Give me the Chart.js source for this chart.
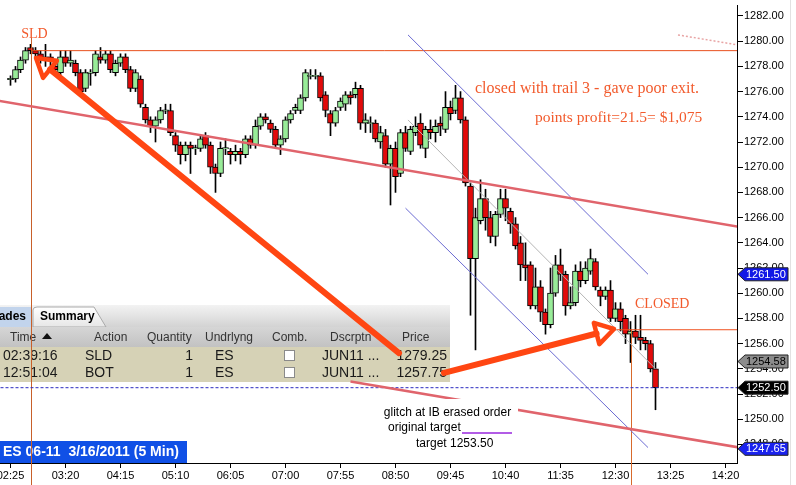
<!DOCTYPE html>
<html>
<head>
<meta charset="utf-8">
<script src="https://cdn.jsdelivr.net/npm/chart.js@4.4.1/dist/chart.umd.min.js"></script>
<style>
  html, body { margin: 0; padding: 0; background: #fff; overflow: hidden; }
  #c { display: block; }
</style>
</head>
<body>
<canvas id="c" width="796" height="485"></canvas>
<script>
// ES 06-11, 5 min bars from 02:25
const timeLabels = ['02:25', '03:20', '04:15', '05:10', '06:05', '07:00', '07:55',
                    '08:50', '09:45', '10:40', '11:35', '12:30', '13:25', '14:20'];
const barsPerLabel = 11;

const opens = [
  1277, 1277, 1277.75, 1278.5, 1279.5, 1279.25, 1279, 1278.75, 1278.75, 1278,
  1277.5, 1278.75, 1278.25, 1278.25, 1277.5, 1276.25, 1277.5, 1277.5, 1278.75, 1278.5,
  1279, 1277.5, 1278.25, 1278.75, 1277.75, 1276.25, 1277, 1274.75, 1273.75, 1273.25,
  1273.75, 1274.5, 1274.5, 1272.5, 1271.75, 1271, 1271.75, 1271.5, 1271.5, 1272.5,
  1271.75, 1270, 1269.5, 1271.5, 1271.25, 1271, 1271.25, 1271, 1272.25, 1271.75,
  1273.25, 1274, 1273.5, 1273, 1271.75, 1272.25, 1273.75, 1274.5, 1274.5, 1275.5,
  1277.25, 1277.25, 1277.25, 1275.75, 1274.25, 1273.5, 1274.75, 1275, 1275.75, 1275.75,
  1276.25, 1273.5, 1273.5, 1273.5, 1272, 1272.5, 1270.25, 1271.5, 1269.5, 1272.75,
  1271.25, 1272.75, 1273.5, 1271.5, 1273, 1272.75, 1273.5, 1273, 1274.75, 1274.5,
  1275.5, 1273.75, 1268.5, 1262.75, 1265.75, 1267.5, 1266, 1264.5, 1266.25, 1267.5,
  1266.5, 1265.5, 1264, 1262.25, 1262.25, 1259, 1260.5, 1258.5, 1257.5, 1260,
  1262.25, 1261.5, 1259, 1259.25, 1261.75, 1261, 1261.75, 1262.5, 1260.25, 1259.75,
  1260.25, 1258, 1258.75, 1258, 1256.75, 1257, 1256.5, 1256.25, 1256, 1254
];
const highs = [
  1277.25, 1278, 1278.75, 1279.5, 1279.75, 1279.5, 1279.25, 1279.75, 1279, 1278.5,
  1279.25, 1279.25, 1279.25, 1278.5, 1277.75, 1277.75, 1277.75, 1279.25, 1279.5, 1279.25,
  1279.25, 1278.5, 1279, 1279, 1278, 1277.75, 1277.25, 1275, 1274, 1274,
  1274.75, 1275, 1275, 1272.75, 1272, 1272, 1272, 1271.75, 1272.5, 1272.75,
  1272, 1270.25, 1272, 1272.25, 1271.5, 1271.75, 1271.5, 1272.5, 1272.5, 1273.75,
  1274.25, 1274.25, 1273.75, 1273.25, 1272.5, 1274, 1274.5, 1275, 1275.75, 1277.75,
  1277.75, 1277.75, 1277.5, 1276, 1274.5, 1274.75, 1275.5, 1276, 1276, 1276.75,
  1276.5, 1274.25, 1274, 1273.75, 1273.25, 1273, 1271.75, 1272, 1273, 1273.25,
  1273.25, 1274, 1274.25, 1273.25, 1273.75, 1273.75, 1274, 1276, 1275.25, 1276.5,
  1276, 1274, 1268.75, 1266.75, 1269, 1268.25, 1266.5, 1266.5, 1268.25, 1268.25,
  1266.75, 1266, 1264.5, 1264, 1262.5, 1262, 1261, 1258.75, 1262, 1263,
  1263.5, 1261.75, 1260.5, 1262.25, 1262.5, 1262.5, 1263.5, 1262.75, 1260.5, 1260.5,
  1261, 1259.25, 1259.25, 1258.25, 1257.75, 1258.25, 1258.25, 1256.5, 1256.25, 1254.5
];
const lows = [
  1276.5, 1276.75, 1277.5, 1278.25, 1279, 1278.75, 1278.25, 1278, 1277.75, 1277.25,
  1277.25, 1278, 1278, 1277.25, 1275.75, 1276, 1276.5, 1277.25, 1278.25, 1278.25,
  1277.5, 1277.25, 1278, 1277.5, 1276, 1276, 1274.75, 1273.5, 1272.75, 1272,
  1273.5, 1274.25, 1272.5, 1271.25, 1270.25, 1270.5, 1269.5, 1271, 1271.25, 1271.5,
  1269.5, 1268, 1269.25, 1271, 1270.25, 1270.5, 1270.25, 1270.75, 1271.5, 1271.5,
  1273, 1273.5, 1272.75, 1271.5, 1271, 1272, 1273.5, 1274.25, 1274.25, 1275.25,
  1277, 1277, 1275.25, 1274, 1272.5, 1273.25, 1274.5, 1274.5, 1275, 1275.5,
  1273, 1272.75, 1272.75, 1272, 1271.5, 1270, 1267, 1268, 1269.25, 1271.25,
  1271, 1272.5, 1271.5, 1270.75, 1272.25, 1272, 1272.5, 1272.75, 1273.75, 1274.25,
  1273.5, 1268.5, 1258.25, 1255.5, 1265.5, 1265, 1264, 1263.75, 1266, 1265.75,
  1264.75, 1263.5, 1261, 1261, 1258.75, 1258.75, 1257.75, 1256.75, 1257.25, 1259.75,
  1261, 1258.25, 1258.75, 1259, 1260.5, 1260.75, 1261.5, 1260.25, 1259, 1259.5,
  1257.75, 1257.75, 1257, 1256, 1254.5, 1256, 1255.5, 1255.5, 1253.75, 1250.75
];
const closes = [
  1277, 1277.75, 1278.5, 1279.25, 1279.25, 1279, 1278.5, 1278.5, 1278.5, 1277.75,
  1278.75, 1278.25, 1278.5, 1277.5, 1276, 1277.5, 1277.5, 1279, 1278.5, 1279,
  1277.75, 1278.25, 1278.75, 1277.75, 1276.25, 1277.5, 1275, 1273.75, 1273.25, 1273.75,
  1274.5, 1274.5, 1272.75, 1271.75, 1271, 1271.75, 1271.5, 1271.5, 1272.25, 1271.75,
  1270, 1269.5, 1271.5, 1271.5, 1271, 1271.25, 1271, 1272.25, 1271.75, 1273.25,
  1274, 1273.75, 1273, 1271.75, 1272.25, 1273.75, 1274.25, 1274.75, 1275.5, 1277.5,
  1277.25, 1277.25, 1275.5, 1274.5, 1273.5, 1274.5, 1275.25, 1275.75, 1275.5, 1276.25,
  1273.5, 1273.75, 1273.5, 1272.25, 1272.75, 1270.25, 1271.5, 1269.25, 1272.75, 1271.5,
  1273, 1273.25, 1271.75, 1273, 1272.75, 1273.25, 1273.25, 1274.75, 1274.25, 1275.5,
  1273.75, 1268.75, 1262.75, 1266, 1267.5, 1266, 1264.5, 1266.25, 1267.5, 1266.75,
  1265.5, 1263.75, 1262.25, 1262, 1259, 1260.5, 1258.5, 1257.5, 1260, 1262.25,
  1261.5, 1259, 1259.25, 1261.75, 1261, 1262, 1262.75, 1260.5, 1259.75, 1260.25,
  1258, 1258.75, 1257.75, 1256.75, 1257, 1256.5, 1256.25, 1256, 1254, 1252.5
];

// price flags on the right axis
const tagValues = [1261.50, 1254.58, 1252.50, 1247.65];

// trades
const tradeTimes = ['02:39:16', '12:51:04'];
const tradeActions = ['SLD', 'BOT'];
const tradeQty = [1, 1];
const tradeUnderlying = ['ES', 'ES'];
const tradeDesc = ['JUN11 ...', 'JUN11 ...'];
const tradePrices = [1279.25, 1257.75];

// drawn lines, as [barIndex, price, barIndex, price]
const sldLevel = [4.2, 1279.25, 147, 1279.25];
const sldMark = [4.2, 1280.25, 4.2, 1244.3];
const closedLevel = [120.5, 1257.1, 147, 1257.1];
const closedMark = [124.2, 1257.1, 124.2, 1244.3];
const redChannel = [[-3, 1275.32, 147, 1265.18], [68, 1253, 147, 1247.67]];
const redFaint = [133.5, 1280.5, 147, 1279.6];
const blueChannel = [[79.5, 1280.5, 127.5, 1261.5], [79, 1266.75, 127.5, 1247.75]];
const midLine = [79.5, 1273.75, 129, 1254];
const arrows = [[77.7, 1255.25, 5.1, 1278.67], [86.7, 1253.67, 120.7, 1257.16]];

const lastClose = closes[closes.length - 1];

const sans = '"Liberation Sans", Arial, sans-serif';
const serif = '"Liberation Serif", "Times New Roman", serif';
Chart.defaults.font.family = sans;

const seg = l => [{x: l[0], y: l[1]}, {x: l[2], y: l[3]}];
const lineDs = (l, color, width, extra) => Object.assign({
  type: 'line', data: seg(l), borderColor: color, borderWidth: width,
  pointRadius: 0, fill: false, order: -1
}, extra || {});

function drawTable(ctx) {
  ctx.save();
  // tab strip
  let g = ctx.createLinearGradient(0, 305, 0, 327);
  g.addColorStop(0, '#f3f3f3');
  g.addColorStop(1, '#d3d3d3');
  ctx.fillStyle = g;
  ctx.fillRect(0, 305, 450, 22);
  ctx.fillStyle = '#c2d4ec';
  ctx.fillRect(0, 307, 31, 20);
  // Summary tab
  g = ctx.createLinearGradient(0, 307, 0, 327);
  g.addColorStop(0, '#ffffff');
  g.addColorStop(1, '#e6e6e6');
  ctx.beginPath();
  ctx.moveTo(33, 327);
  ctx.lineTo(33, 310);
  ctx.quadraticCurveTo(33, 307, 37, 307);
  ctx.lineTo(94, 307);
  ctx.lineTo(106, 327);
  ctx.closePath();
  ctx.fillStyle = g;
  ctx.fill();
  ctx.strokeStyle = '#aaa';
  ctx.lineWidth = 1;
  ctx.stroke();

  ctx.fillStyle = '#000';
  ctx.font = 'bold 12px ' + sans;
  ctx.textBaseline = 'middle';
  ctx.textAlign = 'right';
  ctx.fillText('Trades', 26, 317);
  ctx.textAlign = 'left';
  ctx.fillText('Summary', 40, 317);

  // header
  g = ctx.createLinearGradient(0, 327, 0, 347);
  g.addColorStop(0, '#d6d6d6');
  g.addColorStop(1, '#c2c2c2');
  ctx.fillStyle = g;
  ctx.fillRect(0, 327, 450, 20);
  ctx.fillStyle = '#333';
  ctx.font = '12px ' + sans;
  const heads = ['Time', 'Action', 'Quantity', 'Undrlyng', 'Comb.', 'Dscrptn', 'Price'];
  const headX = [10, 94, 147, 205, 272, 330, 402];
  heads.forEach((h, k) => ctx.fillText(h, headX[k], 338));
  ctx.beginPath();
  ctx.moveTo(42, 339); ctx.lineTo(52, 339); ctx.lineTo(47, 333);
  ctx.closePath();
  ctx.fillStyle = '#111';
  ctx.fill();

  // rows
  ctx.fillStyle = '#d6d2b6';
  ctx.fillRect(0, 347, 450, 35);
  ctx.font = '14px ' + sans;
  tradeTimes.forEach((t, r) => {
    const y = 356 + r * 17;
    ctx.fillStyle = '#1a1a1a';
    ctx.textAlign = 'left';
    ctx.fillText(t, 3, y);
    ctx.fillText(tradeActions[r], 85, y);
    ctx.fillText(tradeUnderlying[r], 215, y);
    ctx.fillText(tradeDesc[r], 322, y);
    ctx.textAlign = 'right';
    ctx.fillText(String(tradeQty[r]), 193, y);
    ctx.fillText(tradePrices[r].toFixed(2), 447, y);
    ctx.fillStyle = '#fff';
    ctx.fillRect(284.5, y - 5.5, 10, 10);
    ctx.strokeStyle = '#8a8a8a';
    ctx.strokeRect(284.5, y - 5.5, 10, 10);
  });

  // series caption
  ctx.fillStyle = '#1050e6';
  ctx.fillRect(0, 441, 187, 22);
  ctx.fillStyle = '#fff';
  ctx.font = 'bold 14px ' + sans;
  ctx.textAlign = 'left';
  ctx.fillText('ES 06-11  3/16/2011 (5 Min)', 3, 452.5);
  ctx.restore();
}

function drawTag(ctx, x, y, text, fill, color) {
  ctx.beginPath();
  ctx.moveTo(x, y);
  ctx.lineTo(x + 7, y - 6.5);
  ctx.lineTo(x + 50, y - 6.5);
  ctx.lineTo(x + 50, y + 6.5);
  ctx.lineTo(x + 7, y + 6.5);
  ctx.closePath();
  ctx.fillStyle = fill;
  ctx.fill();
  ctx.strokeStyle = '#222';
  ctx.lineWidth = 1;
  ctx.stroke();
  ctx.fillStyle = color;
  ctx.font = '11px ' + sans;
  ctx.textAlign = 'left';
  ctx.textBaseline = 'middle';
  ctx.fillText(text, x + 8, y + 0.5);
}

function drawArrow(ctx, x1, y1, x2, y2) {
  const len = Math.hypot(x2 - x1, y2 - y1);
  const ux = (x2 - x1) / len, uy = (y2 - y1) / len;
  const headLen = 18, half = 11;
  const bx = x2 - ux * headLen, by = y2 - uy * headLen;
  ctx.save();
  ctx.strokeStyle = '#ff4612';
  ctx.lineCap = 'round';
  ctx.lineJoin = 'round';
  ctx.lineWidth = 6;
  ctx.beginPath();
  ctx.moveTo(x1, y1);
  ctx.lineTo(bx, by);
  ctx.stroke();
  ctx.lineWidth = 4.5;
  ctx.beginPath();
  ctx.moveTo(x2, y2);
  ctx.lineTo(bx - uy * half, by + ux * half);
  ctx.lineTo(bx + uy * half, by - ux * half);
  ctx.closePath();
  ctx.stroke();
  ctx.restore();
}

const overlay = {
  id: 'overlay',
  beforeDatasetsDraw(chart) {
    drawTable(chart.ctx);
  },
  afterDraw(chart) {
    const ctx = chart.ctx, xs = chart.scales.x, ys = chart.scales.y;
    ctx.save();
    ctx.textBaseline = 'middle';
    ctx.fillStyle = '#f25a2c';
    ctx.font = '14px ' + serif;
    ctx.textAlign = 'center';
    ctx.fillText('SLD', xs.getPixelForValue(sldMark[0]) + 3, 34);
    ctx.textAlign = 'left';
    ctx.fillText('CLOSED', 635, 304);
    ctx.font = '16px ' + serif;
    ctx.fillText('closed with trail 3 - gave poor exit.', 475, 89);
    ctx.font = '15.5px ' + serif;
    ctx.fillText('points profit=21.5= $1,075', 535, 118);

    // note about the target order
    ctx.fillStyle = '#fff';
    ctx.fillRect(378, 399, 140, 53);
    ctx.fillStyle = '#000';
    ctx.font = '12px ' + sans;
    ctx.textAlign = 'center';
    ctx.fillText('glitch at IB erased order', 447.5, 413);
    ctx.textAlign = 'left';
    ctx.fillText('original target', 388, 428);
    ctx.fillText('target 1253.50', 416, 444);
    ctx.strokeStyle = '#b25ce6';
    ctx.lineWidth = 2;
    ctx.beginPath();
    ctx.moveTo(462, 433);
    ctx.lineTo(512, 433);
    ctx.stroke();

    // right edge of the price panel
    ctx.strokeStyle = '#e2e2e2';
    ctx.lineWidth = 1;
    ctx.beginPath();
    ctx.moveTo(790.5, 0);
    ctx.lineTo(790.5, 485);
    ctx.stroke();

    const tagFill = ['#1218e6', '#8c8c8c', '#000', '#1a22ee'];
    const tagText = ['#fff', '#000', '#fff', '#fff'];
    tagValues.forEach((v, k) => drawTag(ctx, chart.chartArea.right + 1,
      ys.getPixelForValue(v), v.toFixed(2), tagFill[k], tagText[k]));

    arrows.forEach(a => drawArrow(ctx,
      xs.getPixelForValue(a[0]), ys.getPixelForValue(a[1]),
      xs.getPixelForValue(a[2]), ys.getPixelForValue(a[3])));
    ctx.restore();
  }
};

new Chart(document.getElementById('c'), {
  type: 'bar',
  data: {
    datasets: [
      lineDs(redChannel[0], '#e0646c', 2.5),
      lineDs(redChannel[1], '#e0646c', 2.5),
      lineDs(redFaint, '#e8a4a4', 1.5, {borderDash: [2, 2]}),
      lineDs(blueChannel[0], '#6a6ad2', 1),
      lineDs(blueChannel[1], '#6a6ad2', 1),
      lineDs(midLine, '#b4b4b4', 1),
      lineDs(sldLevel, '#e8501e', 1),
      lineDs(closedLevel, '#f0501e', 1),
      lineDs([-3, lastClose, 147, lastClose], '#2a2ac0', 1, {borderDash: [3, 2]}),
      lineDs(sldMark, '#c8602a', 1, {clip: false}),
      lineDs(closedMark, '#d86a2c', 1, {clip: false}),
      {
        type: 'bar',
        data: opens.map((o, i) => ({x: i, y: o === closes[i] ? [o - 0.05, o + 0.05] : [o, closes[i]]})),
        backgroundColor: opens.map((o, i) => closes[i] >= o ? '#98ec98' : '#e20a0a'),
        borderColor: '#000',
        borderWidth: 1,
        borderSkipped: false,
        barThickness: 6,
        grouped: false,
        order: 0
      },
      {
        type: 'bar',
        data: lows.map((l, i) => ({x: i, y: [l, highs[i]]})),
        backgroundColor: '#000',
        borderWidth: 0,
        barThickness: 1,
        grouped: false,
        order: 1
      }
    ]
  },
  options: {
    responsive: false,
    animation: false,
    events: [],
    layout: {padding: {left: 0, top: 5, right: 0, bottom: 0}},
    plugins: {legend: {display: false}, tooltip: {enabled: false}},
    scales: {
      x: {
        type: 'linear',
        min: -2.1,
        max: 145.3,
        offset: false,
        grid: {offset: false, drawOnChartArea: false, drawTicks: true, tickLength: 5, color: '#000'},
        border: {display: true, color: '#000'},
        ticks: {
          autoSkip: false, maxRotation: 0, padding: 1, color: '#000',
          font: {size: 11},
          callback: (v, k) => timeLabels[k]
        },
        afterBuildTicks: s => { s.ticks = timeLabels.map((_, k) => ({value: k * barsPerLabel})); },
        afterFit: s => { s.height = 22; s.paddingLeft = 0; s.paddingRight = 0; }
      },
      y: {
        position: 'right',
        min: 1246.524,
        max: 1282.873,
        grid: {drawOnChartArea: false, drawTicks: true, tickLength: 6, color: '#000'},
        border: {display: true, color: '#000'},
        ticks: {
          stepSize: 2, includeBounds: false, padding: 1, color: '#000',
          font: {size: 11},
          callback: v => v.toFixed(2)
        },
        afterFit: s => { s.width = 59; s.paddingTop = 0; s.paddingBottom = 0; }
      }
    }
  },
  plugins: [overlay]
});
</script>
</body>
</html>
